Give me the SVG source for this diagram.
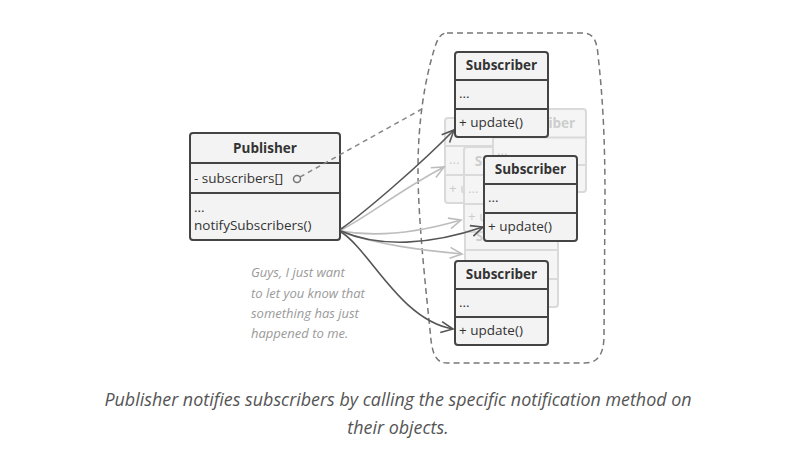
<svg xmlns="http://www.w3.org/2000/svg" width="791" height="474" viewBox="0 0 791 474">
<defs>
<style>
.box{fill:#f3f3f3;stroke:#444;stroke-width:2}
.sep{stroke:#444;stroke-width:2}
.gbox{fill:#f5f5f5;stroke:#dadada;stroke-width:2}
.gsep{stroke:#dadada;stroke-width:2}
.t{font-family:"Open Sans","Noto Sans",sans-serif;font-size:13.5px;fill:#333}
.b{font-weight:bold;text-anchor:middle}
.gt{font-family:"Open Sans","Noto Sans",sans-serif;font-size:13.5px;fill:#cdcdcd}
.dk{fill:none;stroke:#555;stroke-width:1.6}
.lt{fill:none;stroke:#bdbdbd;stroke-width:1.6}
.note{font-family:"Open Sans","Noto Sans",sans-serif;font-size:13px;font-style:italic;fill:#9a9a9a}
.cap{font-family:"Open Sans","Noto Sans",sans-serif;font-size:17.9px;font-style:italic;fill:#555;text-anchor:middle}
</style>
<marker id="ad" markerWidth="16" markerHeight="14" refX="13" refY="7" orient="auto" markerUnits="userSpaceOnUse"><path d="M1 1.5 L13 7 L1 12.5" fill="none" stroke="#555" stroke-width="1.6"/></marker>
<marker id="al" markerWidth="16" markerHeight="14" refX="13" refY="7" orient="auto" markerUnits="userSpaceOnUse"><path d="M1 1.5 L13 7 L1 12.5" fill="none" stroke="#bdbdbd" stroke-width="1.6"/></marker>
</defs>
<rect width="791" height="474" fill="#fff"/>
<g id="collection">
<path d="M447 33 L583 33 C594 33 597 42 598 55 C603 100 605 140 605 200 L604 335 C604 354 598 363 585 363 L447 363 C437 363 433 356 431 340 C426 290 418 220 418 170 C418 120 425 80 434 50 C437 40 440 33 447 33 Z" fill="none" stroke="#777" stroke-width="1.5" stroke-dasharray="6 4"/>
</g>
<g id="ghost2">
<rect class="gbox" x="445" y="118" width="93" height="85" rx="3"/>
<line class="gsep" x1="445" y1="146" x2="538" y2="146"/><line class="gsep" x1="445" y1="175" x2="538" y2="175"/>
<text class="gt" x="449" y="164">...</text><text class="gt" x="449" y="193">+ update()</text>
</g>
<g id="ghost4">
<rect class="gbox" x="465" y="222" width="93" height="85" rx="3"/>
<line class="gsep" x1="465" y1="250" x2="558" y2="250"/><line class="gsep" x1="465" y1="279" x2="558" y2="279"/>
<text class="gt" x="511.5" y="241" text-anchor="middle" font-weight="bold">Subscriber</text>
</g>
<g id="ghost3">
<rect class="gbox" x="464" y="147" width="93" height="85" rx="3"/>
<line class="gsep" x1="464" y1="175" x2="557" y2="175"/><line class="gsep" x1="464" y1="204" x2="557" y2="204"/>
<text class="gt" x="510.5" y="166" text-anchor="middle" font-weight="bold">Subscriber</text>
<text class="gt" x="468" y="193">...</text><text class="gt" x="468" y="221">+ update()</text>
</g>
<g id="ghost1">
<rect class="gbox" x="493" y="109" width="93" height="83" rx="3"/>
<line class="gsep" x1="493" y1="137.5" x2="586" y2="137.5"/><line class="gsep" x1="493" y1="165" x2="586" y2="165"/>
<text class="gt" x="539.5" y="128" text-anchor="middle" font-weight="bold">Subscriber</text>
<text class="gt" x="497" y="155">...</text><text class="gt" x="497" y="183">+ update()</text>
</g>
<g id="publisher">
<rect class="box" x="190" y="133" width="150" height="107" rx="3"/>
<line class="sep" x1="190" y1="163" x2="340" y2="163"/><line class="sep" x1="190" y1="193" x2="340" y2="193"/>
<text class="t b" x="265" y="153">Publisher</text>
<text class="t" x="194" y="183">- subscribers[]</text>
<text class="t" x="194" y="212">...</text>
<text class="t" x="194" y="230">notifySubscribers()</text>
</g>
<g id="connectors">
<line x1="300" y1="177" x2="422" y2="109" stroke="#888" stroke-width="1.5" stroke-dasharray="5 4"/>
<circle cx="297" cy="179" r="3.5" fill="#f3f3f3" stroke="#777" stroke-width="1.5"/>
<path class="lt" d="M341 230 C370 215 400 190 444 167" marker-end="url(#al)"/>
<path class="lt" d="M341 231 C380 238 420 232 461 220" marker-end="url(#al)"/>
<path class="lt" d="M341 232 C380 245 420 250 462 254" marker-end="url(#al)"/>
<path class="dk" d="M341 229 C365 212 420 165 454 130" marker-end="url(#ad)"/>
<path class="dk" d="M341 231 C380 248 430 245 483 227" marker-end="url(#ad)"/>
<path class="dk" d="M341 232 C370 250 400 320 453 329" marker-end="url(#ad)"/>
</g>
<g id="subscriber1">
<rect class="box" x="455" y="52" width="93" height="85" rx="3"/>
<line class="sep" x1="455" y1="80" x2="548" y2="80"/><line class="sep" x1="455" y1="109" x2="548" y2="109"/>
<text class="t b" x="501.5" y="70">Subscriber</text>
<text class="t" x="459" y="98">...</text><text class="t" x="459" y="127">+ update()</text>
</g>
<g id="subscriber2">
<rect class="box" x="484" y="156" width="93" height="85" rx="3"/>
<line class="sep" x1="484" y1="184" x2="577" y2="184"/><line class="sep" x1="484" y1="213" x2="577" y2="213"/>
<text class="t b" x="530.5" y="174">Subscriber</text>
<text class="t" x="488" y="202">...</text><text class="t" x="488" y="231">+ update()</text>
</g>
<g id="subscriber3">
<rect class="box" x="455" y="261" width="93" height="84" rx="3"/>
<line class="sep" x1="455" y1="289" x2="548" y2="289"/><line class="sep" x1="455" y1="317" x2="548" y2="317"/>
<text class="t b" x="501.5" y="279">Subscriber</text>
<text class="t" x="459" y="307">...</text><text class="t" x="459" y="335">+ update()</text>
</g>
<g id="note">
<text class="note" x="251" y="277">Guys, I just want</text>
<text class="note" x="251" y="298">to let you know that</text>
<text class="note" x="251" y="318">something has just</text>
<text class="note" x="251" y="338">happened to me.</text>
</g>
<g id="caption">
<text class="cap" x="398" y="406">Publisher notifies subscribers by calling the specific notification method on</text>
<text class="cap" x="398" y="434">their objects.</text>
</g>
</svg>
